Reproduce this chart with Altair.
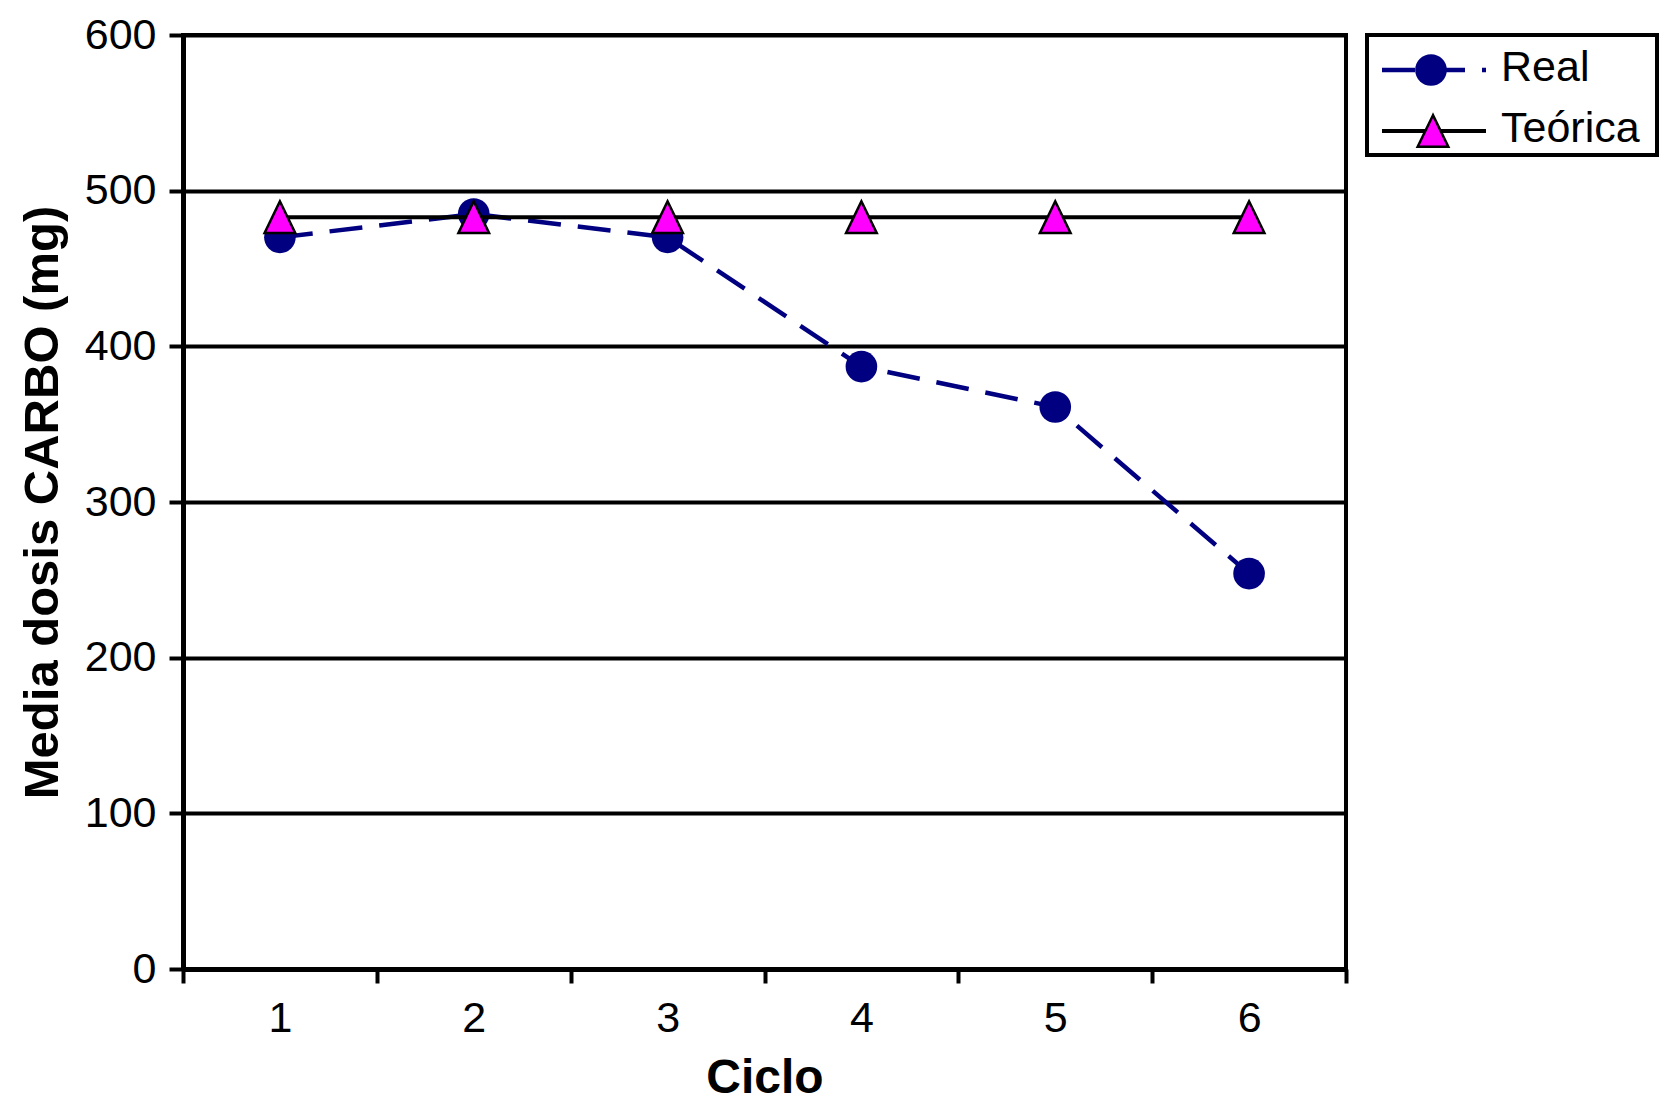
import altair as alt
import pandas as pd

# ---- data ----
ciclos = ["1", "2", "3", "4", "5", "6"]
real = [470, 485, 470, 387, 361, 254]
teorica = [483, 483, 483, 483, 483, 483]
series = ["Real", "Teórica"]

FONT = "Liberation Sans"
NAVY = "#000080"
MAGENTA = "#FF00FF"
TRI_PATH = "M0,-1L-0.97,1L0.97,1Z"
TRI_SIZE = 1000
CIRC_SIZE = 1000

df_real = pd.DataFrame({"Ciclo": ciclos, "Dosis": real})
df_teor = pd.DataFrame({"Ciclo": ciclos, "Dosis": teorica})

x_enc = alt.X(
    "Ciclo:O",
    sort=ciclos,
    bandPosition=0.5,
    scale=alt.Scale(type="band", paddingInner=0, paddingOuter=0),
    axis=alt.Axis(
        title="Ciclo",
        tickBand="extent",
        labelAngle=0,
        tickSize=14,
        tickWidth=4,
        tickColor="black",
        domainColor="black",
        domainWidth=5,
        labelFont=FONT,
        labelFontSize=43,
        labelColor="black",
        labelPadding=14,
        titleFont=FONT,
        titleFontSize=48,
        titleFontWeight="bold",
        titleColor="black",
        titlePadding=14,
        grid=False,
    ),
)

y_enc = alt.Y(
    "Dosis:Q",
    scale=alt.Scale(domain=[0, 600], nice=False),
    axis=alt.Axis(
        title="Media dosis CARBO (mg)",
        values=[0, 100, 200, 300, 400, 500, 600],
        tickSize=14,
        tickWidth=4,
        tickColor="black",
        domainColor="black",
        domainWidth=5,
        grid=True,
        gridColor="black",
        gridWidth=4,
        gridOpacity=1,
        labelFont=FONT,
        labelFontSize=43,
        labelColor="black",
        labelPadding=13,
        titleFont=FONT,
        titleFontSize=49,
        titleFontWeight="bold",
        titleColor="black",
        titlePadding=17,
    ),
)

real_line = alt.Chart(df_real).mark_line(
    color=NAVY, strokeWidth=4.5, strokeDash=[33, 17]
).encode(x=x_enc, y=y_enc)

real_pts = alt.Chart(df_real).mark_point(
    shape="circle", filled=True, color=NAVY, size=CIRC_SIZE, opacity=1
).encode(x=x_enc, y=y_enc)

teor_line = alt.Chart(df_teor).mark_line(
    color="black", strokeWidth=4
).encode(x=x_enc, y=y_enc)

teor_pts = alt.Chart(df_teor).mark_point(
    shape=TRI_PATH, filled=True, fill=MAGENTA, stroke="black",
    strokeWidth=2.5, size=TRI_SIZE, opacity=1
).encode(x=x_enc, y=y_enc)

main = alt.layer(real_line, real_pts, teor_line, teor_pts).properties(
    width=1163, height=934
)

# ---- legend panel (drawn through its own scales) ----
LEG_W, LEG_H = 290, 120
leg_df = pd.DataFrame({
    "serie": series,
    "x0": [15, 15],
    "x1": [119, 119],
    "xs": [64, 66],
    "xt": [134, 134],
})
lx = alt.Scale(domain=[0, LEG_W], nice=False)
ly = alt.Scale(type="point", domain=series, range=[35, 96], padding=0)
y_leg = alt.Y("serie:N", scale=ly, axis=None)

leg_base = alt.Chart(leg_df)
leg_real_line = leg_base.transform_filter(alt.datum.serie == "Real").mark_rule(
    color=NAVY, strokeWidth=4.5, strokeDash=[33, 17]
).encode(x=alt.X("x0:Q", scale=lx, axis=None), x2="x1:Q", y=y_leg)
leg_teor_line = leg_base.transform_filter(alt.datum.serie == "Teórica").mark_rule(
    color="black", strokeWidth=4
).encode(x=alt.X("x0:Q", scale=lx, axis=None), x2="x1:Q", y=y_leg)
leg_real_pt = leg_base.transform_filter(alt.datum.serie == "Real").mark_point(
    shape="circle", filled=True, color=NAVY, size=CIRC_SIZE, opacity=1
).encode(x=alt.X("xs:Q", scale=lx, axis=None), y=y_leg)
leg_teor_pt = leg_base.transform_filter(alt.datum.serie == "Teórica").mark_point(
    shape=TRI_PATH, filled=True, fill=MAGENTA, stroke="black",
    strokeWidth=2.5, size=TRI_SIZE, opacity=1
).encode(x=alt.X("xs:Q", scale=lx, axis=None), y=y_leg)
leg_text = leg_base.mark_text(
    align="left", baseline="middle", font=FONT, fontSize=43, color="black", dy=-2
).encode(
    x=alt.X("xt:Q", scale=lx, axis=None),
    y=y_leg,
    text="serie:N",
)

legend = alt.layer(
    leg_real_line, leg_real_pt, leg_teor_line, leg_teor_pt, leg_text
).properties(width=LEG_W, height=LEG_H)

chart = (
    alt.hconcat(main, legend, spacing=21, bounds="flush")
    .configure_view(stroke="black", strokeWidth=4)
    .properties(
        background="white",
        padding={"top": 4, "left": 8, "right": 0, "bottom": 0},
    )
)

chart.save("out.html", embed_options={"renderer": "svg", "actions": False})
